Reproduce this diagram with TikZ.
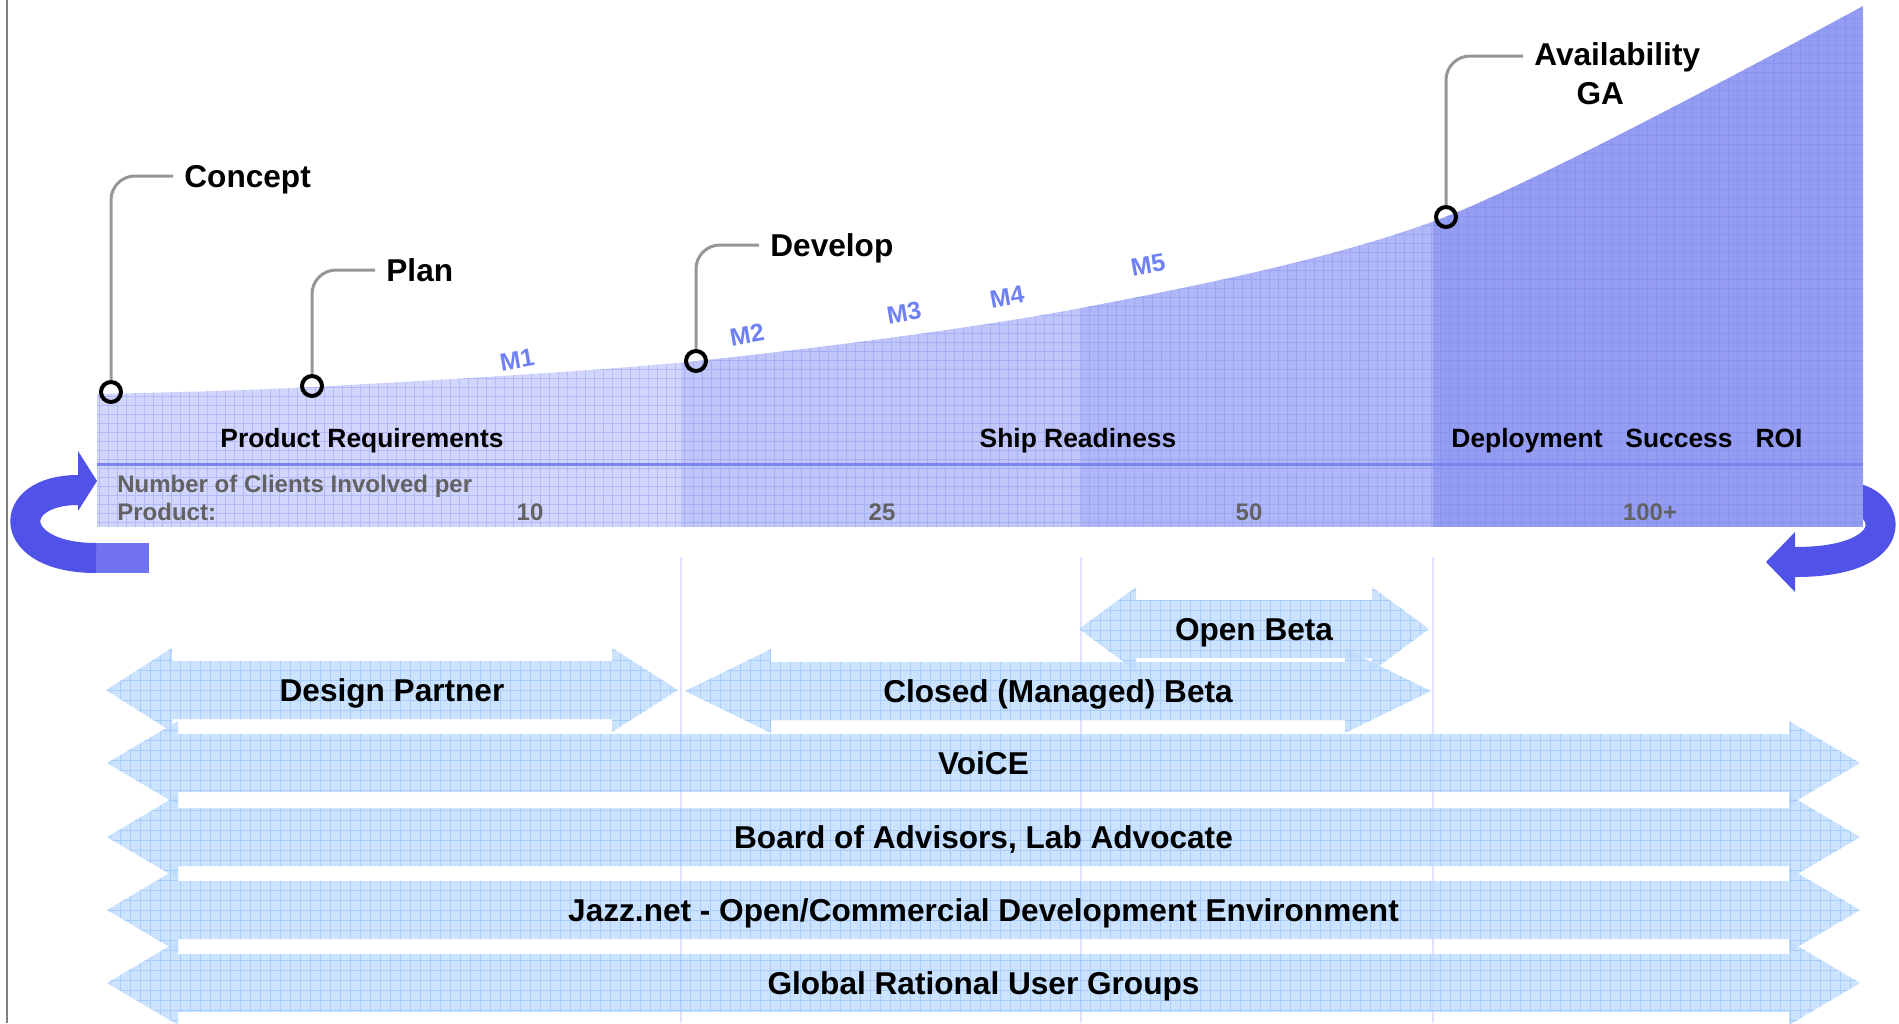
\documentclass[tikz,border=0pt]{standalone}
\usepackage{fontspec}
\setmainfont{Liberation Sans}
\usetikzlibrary{positioning}

\definecolor{zoneA}{RGB}{210,214,252}
\definecolor{zoneB}{RGB}{192,198,250}
\definecolor{zoneC}{RGB}{176,183,248}
\definecolor{zoneD}{RGB}{148,157,242}
\definecolor{zonegrid}{RGB}{110,122,236}
\definecolor{divblue}{RGB}{122,133,240}
\definecolor{mblue}{RGB}{110,128,244}
\definecolor{loopblue}{RGB}{80,82,232}
\definecolor{loopgrid}{RGB}{40,40,210}
\definecolor{looptail}{RGB}{112,114,240}
\definecolor{bandblue}{RGB}{190,220,255}
\definecolor{bandgrid}{RGB}{150,196,252}
\definecolor{calloutgray}{RGB}{150,150,150}
\definecolor{clientgray}{RGB}{98,98,98}
\definecolor{guide}{RGB}{226,226,252}

% double headed band with its label
\newcommand{\bandarrow}[6]{%
  \fill[band] (#2,#4) -- ++(#5,-42) -- ++(0,13) -- (#3-#5,#4-29) -- ++(0,-13) -- (#3,#4)
    -- ++(-#5,42) -- ++(0,-13) -- (#2+#5,#4+29) -- ++(0,13) -- cycle;
  \node[bandlabel] (#1) at ({(#2+#3)/2},#4) {#6};
}

\begin{document}
\begin{tikzpicture}[
    x=0.5pt, y=-0.5pt,
    milestone/.style={circle, draw=black, line width=2pt, minimum size=10pt, inner sep=0pt},
    callout/.style={draw=calloutgray, line width=1.5pt, rounded corners=12pt},
    phase/.style={font=\fontsize{15.8}{18}\selectfont\bfseries, inner sep=5.5pt, text height=11.3pt, text depth=0pt},
    zonelabel/.style={font=\fontsize{13.2}{15}\selectfont\bfseries, inner sep=0pt, text height=9.5pt, text depth=0pt},
    clients/.style={font=\fontsize{12}{14}\selectfont\bfseries, text=clientgray, inner sep=0pt},
    mlabel/.style={font=\fontsize{12.4}{14}\selectfont\bfseries, text=mblue, rotate=10, inner sep=0pt},
    band/.style={fill=bandblue, fill opacity=0.8,
      path picture={\draw[bandgrid, line width=0.5pt, draw opacity=0.7]
        (path picture bounding box.south west) grid[step=5pt] (path picture bounding box.north east);}},
    bandlabel/.style={font=\fontsize{15.8}{18}\selectfont\bfseries, inner sep=0pt, text height=11.3pt, text depth=0pt},
    loop/.style={draw=loopblue, line width=15pt},
    guideline/.style={draw=guide, line width=0.6pt}
]
\useasboundingbox (0,0) rectangle (1899,1023);

% frame line on the left
\draw[gray, line width=1pt] (7,0) -- (7,1023);

% loop arrows
\fill[looptail] (96,543) rectangle (149,573);
\draw[loop] (96,558) .. controls (5,558) and (5,490) .. (78,490);
\fill[loopblue] (78,451) -- (97,481) -- (78,511) -- cycle;
\draw[loop] (1845,497) .. controls (1890,497) and (1910,562) .. (1795,562);
\fill[loopblue] (1795,532) -- (1766,562) -- (1795,592) -- cycle;

% growth curve
\begin{scope}
  \clip (97,527) -- plot[smooth] coordinates {(97,394) (312,387) (696,361) (1081,308) (1445,217) (1863,6)} -- (1863,527) -- cycle;
  \fill[zoneA] (97,0) rectangle (681,527);
  \fill[zoneB] (681,0) rectangle (1081,527);
  \fill[zoneC] (1081,0) rectangle (1433,527);
  \fill[zoneD] (1433,0) rectangle (1863,527);
  \draw[zonegrid, line width=0.4pt, opacity=0.3] (97,0) grid[step=4.5pt] (1863,527);
\end{scope}
\draw[divblue, line width=1.5pt] (97,464) -- (1863,464);

% phase texts on the curve
\node[zonelabel] (prodreq) at (362,438) {Product Requirements};
\node[zonelabel] (shipready) at (1078,438) {Ship Readiness};
\node[zonelabel] (deploy) at (1527,438) {Deployment};
\node[zonelabel] (success) at (1679,438) {Success};
\node[zonelabel] (roi) at (1779,438) {ROI};
\node[clients, anchor=west, align=left] (clients) at (117,498) {Number of Clients Involved per\\Product:};
\node[clients] (n10) at (530,512) {10};
\node[clients] (n25) at (882,512) {25};
\node[clients] (n50) at (1249,512) {50};
\node[clients] (n100) at (1650,512) {100+};

% milestones
\node[mlabel] (m1) at (517,360) {M1};
\node[mlabel] (m2) at (747,335) {M2};
\node[mlabel] (m3) at (904,313) {M3};
\node[mlabel] (m4) at (1007,297) {M4};
\node[mlabel] (m5) at (1148,265) {M5};

\node[milestone] (concept) at (111,392) {};
\node[milestone] (plan) at (312,386) {};
\node[milestone] (develop) at (696,361) {};
\node[milestone] (avail) at (1446,217) {};

\node[phase, anchor=west] (concepttext) at (173,176) {Concept};
\node[phase, anchor=west] (plantext) at (375,270) {Plan};
\node[phase, anchor=west] (developtext) at (759,245) {Develop};
\node[font=\fontsize{15.8}{19.5}\selectfont\bfseries, inner sep=5.5pt, anchor=west, align=center] (availtext) at (1523,74) {Availability\\GA\hspace*{17pt}};

\draw[callout] (concept) |- (concepttext);
\draw[callout] (plan) |- (plantext);
\draw[callout] (develop) |- (developtext);
\draw[callout] (avail) |- ([yshift=9pt]availtext.west);

% guide lines
\draw[guideline] (681,557) -- (681,1023);
\draw[guideline] (1081,557) -- (1081,1023);
\draw[guideline] (1433,557) -- (1433,1023);

% programmes
\bandarrow{openbeta}{1079}{1429}{629}{57}{Open Beta}
\bandarrow{designpartner}{106}{678}{690}{66}{Design Partner}
\bandarrow{closedbeta}{685}{1431}{691}{86}{Closed (Managed) Beta}
\bandarrow{voice}{107}{1860}{763}{71}{VoiCE}
\bandarrow{advisors}{107}{1860}{837}{71}{Board of Advisors, Lab Advocate}
\bandarrow{jazz}{107}{1860}{910}{71}{Jazz.net - Open/Commercial Development Environment}
\bandarrow{usergroups}{107}{1860}{983}{71}{Global Rational User Groups}

\end{tikzpicture}
\end{document}
